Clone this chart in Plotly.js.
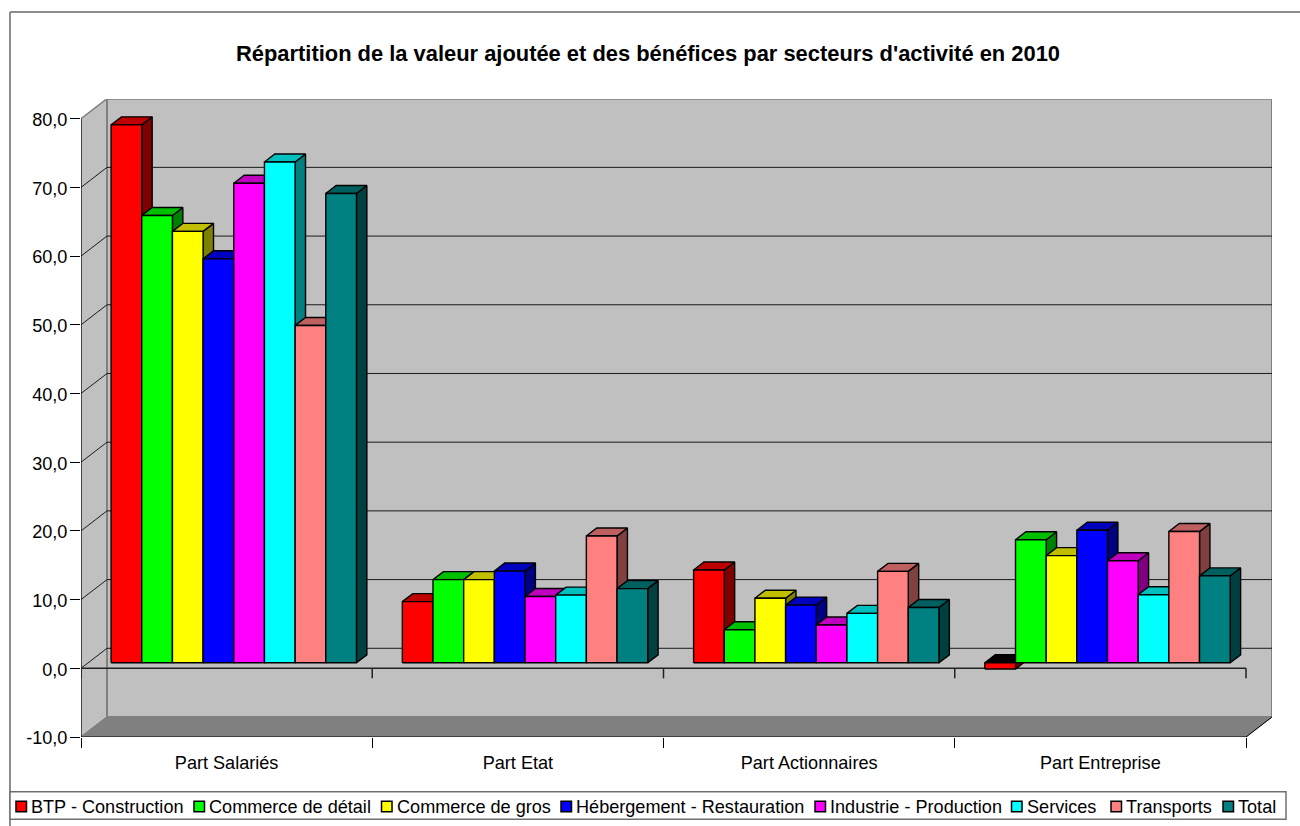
<!DOCTYPE html>
<html><head><meta charset="utf-8">
<script src="https://cdn.plot.ly/plotly-3.0.1.min.js"></script>
<style>html,body{margin:0;padding:0;background:#fff;overflow:hidden}#chart{width:1300px;height:826px}</style>
</head><body><div id="chart"></div>
<script>
var categories = ["Part Salariés","Part Etat","Part Actionnaires","Part Entreprise"];
var btp        = [78.3, 8.9, 13.5, -0.9];
var detail     = [65.1, 12.1, 4.8, 17.9];
var gros       = [62.8, 12.1, 9.4, 15.6];
var hebergement= [58.8, 13.35, 8.4, 19.3];
var industrie  = [69.8, 9.65, 5.5, 14.85];
var services   = [72.9, 9.85, 7.2, 9.9];
var transports = [49.1, 18.45, 13.3, 19.1];
var total      = [68.3, 10.8, 8.05, 12.65];
var seriesNames = ["BTP - Construction","Commerce de détail","Commerce de gros","Hébergement - Restauration","Industrie - Production","Services","Transports","Total"];
var seriesValues = [btp,detail,gros,hebergement,industrie,services,transports,total];
var seriesColors = ["#FF0000","#00FF00","#FFFF00","#0000FF","#FF00FF","#00FFFF","#FF8080","#008080"];
var yTicks = [-10,0,10,20,30,40,50,60,70,80];
var yTickLabels = ["-10,0","0,0","10,0","20,0","30,0","40,0","50,0","60,0","70,0","80,0"];

// pixel geometry of the oblique projection
var L=81, R=1272, T=99, B=736.7, W=1300, H=826;
var catPx=291.25, unitPx=6.867;
var DX=26/catPx, DY=20/unitPx;
var FRONT=0.275, BACK=0.675;
var BW=30.67/catPx, GAP=(1-8*BW)/2;
var yTop=-10+(B-T)/unitPx, xTop=4+DX;

function shade(hex,f){
  var n=parseInt(hex.slice(1),16);
  var c=[(n>>16)&255,(n>>8)&255,n&255].map(function(v){return Math.round(v*f);});
  return 'rgb('+c.join(',')+')';
}
function poly(pts,fill,line,lw){
  return {type:'scatter',mode:'lines',x:pts.map(function(p){return p[0];}),y:pts.map(function(p){return p[1];}),
    fill:'toself',fillcolor:fill,line:{color:line,width:lw,shape:'linear'},hoverinfo:'skip',showlegend:false,cliponaxis:false};
}
function path(xs,ys,color,lw){
  return {type:'scatter',mode:'lines',x:xs,y:ys,line:{color:color,width:lw},hoverinfo:'skip',showlegend:false,cliponaxis:false};
}
var traces=[];
// walls and floor
traces.push(poly([[0,-10],[0,80],[DX,80+DY],[DX,-10+DY],[0,-10]],'#C0C0C0','#808080',1.5));
traces.push(poly([[DX,-10+DY],[DX,80+DY],[4+DX,80+DY],[4+DX,-10+DY],[DX,-10+DY]],'#C0C0C0','#808080',2));
traces.push(poly([[0,-10],[DX,-10+DY],[4+DX,-10+DY],[4,-10],[0,-10]],'#808080','#808080',1));
// gridlines
yTicks.forEach(function(v){
  if(v===-10||v===80) return;
  traces.push(path([0,DX,4+DX],[v,v+DY,v+DY],'#1a1a1a',1));
});
// front axes
traces.push(path([0,0],[-10,80],'#000',1));
traces.push(path([0,4],[-10,-10],'#000',1.2));
traces.push(path([4,4+DX],[-10,-10+DY],'#000',1));
traces.push(path([0,4],[0,0],'#222',1.5));
[0,1,2,3,4].forEach(function(k){traces.push(path([k,k],[0,-10/unitPx],'#222',1.5));});
// 3D bars, painted series by series
seriesValues.forEach(function(vals,s){
  var col=seriesColors[s];
  vals.forEach(function(v,k){
    var x0=k+GAP+s*BW, x1=x0+BW;
    var hi=Math.max(v,0), lo=Math.min(v,0);
    var ax=FRONT*DX, ay=FRONT*DY, bx=BACK*DX, by=BACK*DY;
    var side=[[x1+ax,lo+ay],[x1+ax,hi+ay],[x1+bx,hi+by],[x1+bx,lo+by],[x1+ax,lo+ay]];
    var top=[[x0+ax,hi+ay],[x0+bx,hi+by],[x1+bx,hi+by],[x1+ax,hi+ay],[x0+ax,hi+ay]];
    var front=[[x0+ax,lo+ay],[x0+ax,hi+ay],[x1+ax,hi+ay],[x1+ax,lo+ay],[x0+ax,lo+ay]];
    traces.push(poly(side,shade(col,0.5),'#000',1.4));
    traces.push(poly(top,v<0?'#000':shade(col,0.75),'#000',1.4));
    var f=poly(front,col,'#000',1.4);
    f.name=seriesNames[s];
    traces.push(f);
  });
});

function px(x){return (x-L)/(R-L);}
function py(y){return (B-y)/(B-T);}
var shapes=[
  {type:'line',xref:'paper',yref:'paper',x0:px(10),x1:px(10),y0:py(826),y1:py(12),line:{color:'#8c8c8c',width:2},layer:'below'},
  {type:'line',xref:'paper',yref:'paper',x0:px(10),x1:px(1300),y0:py(12),y1:py(12),line:{color:'#8c8c8c',width:2},layer:'below'},
  {type:'rect',xref:'paper',yref:'paper',x0:px(10),x1:px(1286),y0:py(819),y1:py(791.5),line:{color:'#707070',width:1.5},fillcolor:'#fff',layer:'below'}
];
var annotations=[];
var swatchX=[16,194,381.5,561,815,1011.5,1111,1223];
seriesNames.forEach(function(n,i){
  shapes.push({type:'rect',xref:'paper',yref:'paper',x0:px(swatchX[i]),x1:px(swatchX[i]+10.5),y0:py(811.5),y1:py(801),
    line:{color:'#000',width:1.5},fillcolor:seriesColors[i]});
  annotations.push({xref:'paper',yref:'paper',x:px(swatchX[i]+15),y:py(807),xanchor:'left',yanchor:'middle',showarrow:false,
    text:n,font:{family:'"Liberation Sans",Arial,sans-serif',size:18.1,color:'#000'},borderpad:0,borderwidth:0});
});

var layout={
  width:W,height:H,autosize:false,showlegend:false,
  paper_bgcolor:'#fff',plot_bgcolor:'rgba(0,0,0,0)',
  margin:{l:L,r:W-R,t:T,b:H-B,pad:0},
  font:{family:'"Liberation Sans",Arial,sans-serif',size:18.1,color:'#000'},
  title:{text:"Répartition de la valeur ajoutée et des bénéfices par secteurs d'activité en 2010",
    font:{family:'"Liberation Sans",Arial,sans-serif',size:21.9,color:'#000',weight:'bold'},
    x:648/W,xanchor:'center',xref:'container',y:1-53/H,yanchor:'middle',yref:'container'},
  xaxis:{type:'linear',range:[0,xTop],fixedrange:true,showgrid:false,zeroline:false,showline:false,
    tickmode:'array',tickvals:[0.5,1.5,2.5,3.5],ticktext:categories,ticks:'outside',ticklen:9,tickcolor:'rgba(0,0,0,0)',
    tickfont:{size:18.1,color:'#000'},
    minor:{tickmode:'array',tickvals:[0,1,2,3,4],ticks:'outside',ticklen:10,tickwidth:1,tickcolor:'#000',showgrid:false}},
  yaxis:{type:'linear',range:[-10,yTop],fixedrange:true,showgrid:false,zeroline:false,showline:false,
    tickmode:'array',tickvals:yTicks,ticktext:yTickLabels,ticks:'outside',ticklen:10,tickwidth:1,tickcolor:'#000',
    ticklabelshift:1,ticklabelstandoff:-1,tickfont:{size:18.1,color:'#000'}},
  shapes:shapes,annotations:annotations
};
Plotly.newPlot('chart',traces,layout,{displayModeBar:false,staticPlot:true});
</script></body></html>
